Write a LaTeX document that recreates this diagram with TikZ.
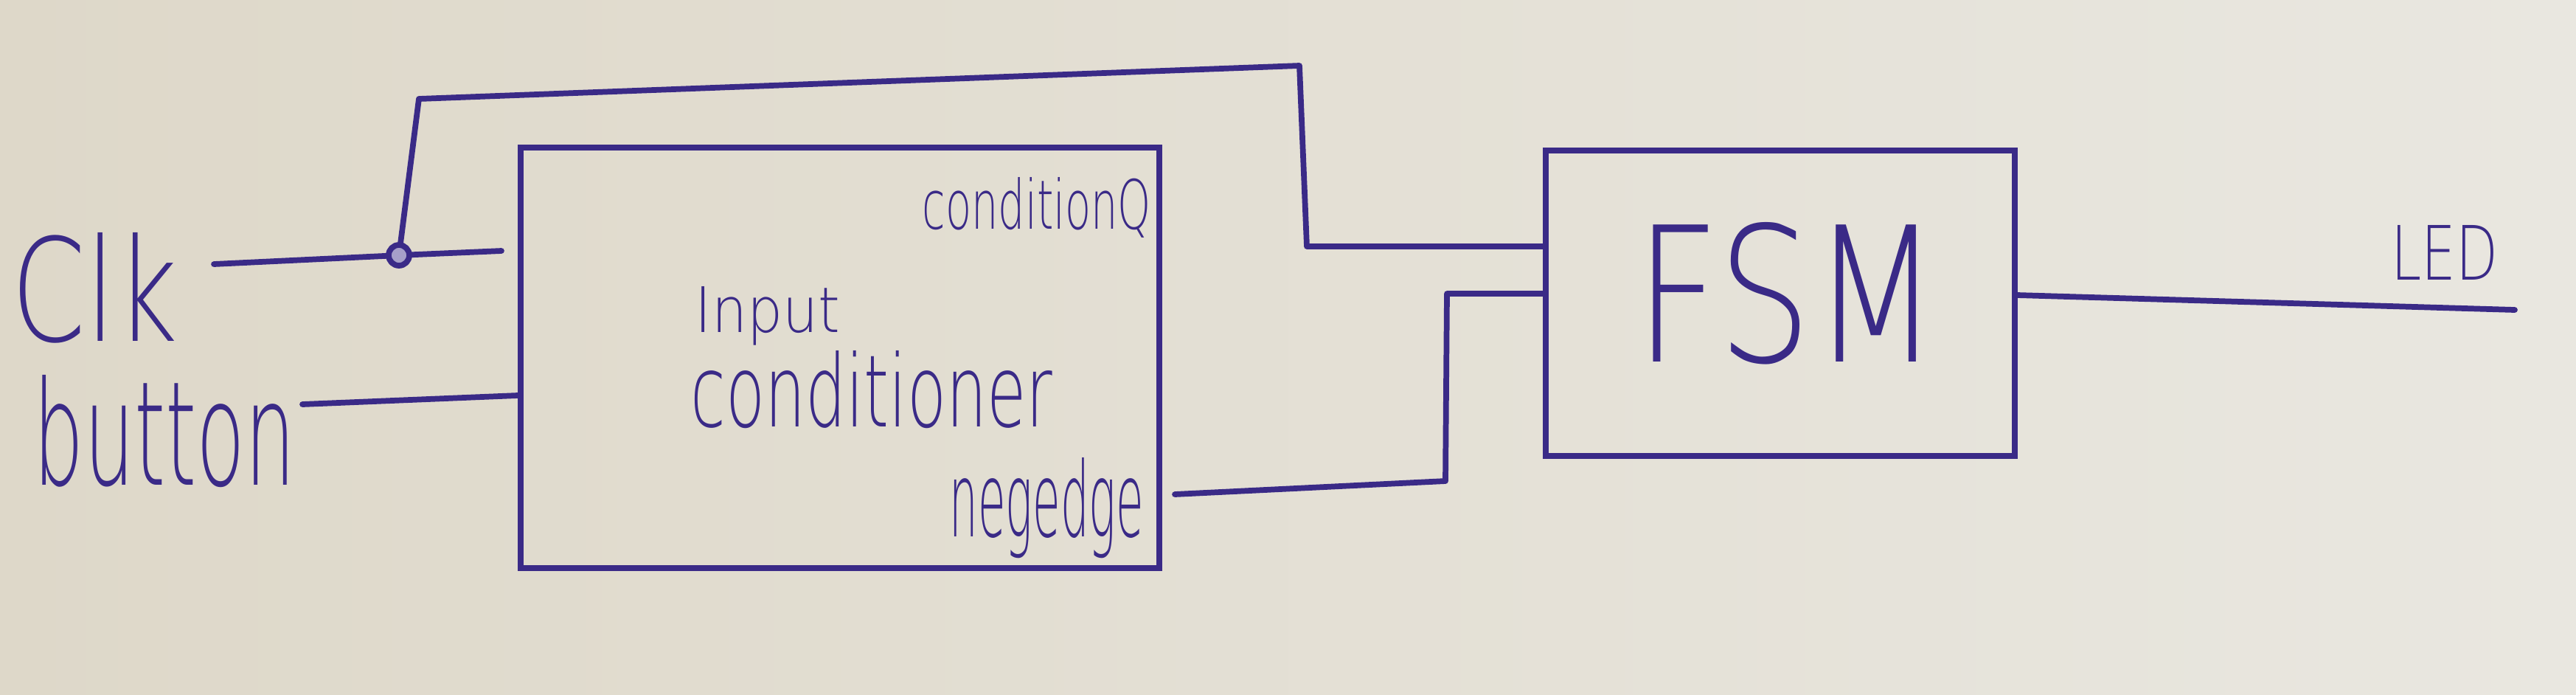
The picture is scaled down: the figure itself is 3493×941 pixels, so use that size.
\documentclass[tikz,border=0pt]{standalone}
\usepackage{fontspec}
\newfontfamily\handfont{DejaVu Sans ExtraLight}
\definecolor{ink}{RGB}{58,42,135}
\definecolor{paperL}{RGB}{222,216,201}
\definecolor{paperR}{RGB}{233,231,224}
\newcommand\handtext[3]{\resizebox{#1}{#2}{\handfont #3}}
\tikzset{
  wire/.style={draw=ink, line width=2.2pt, line cap=round, line join=round},
  blockbox/.style={draw=ink, line width=2.2pt, rectangle, inner sep=0pt},
  lbl/.style={inner sep=0pt, anchor=base west, text=ink},
}
\begin{document}
\begin{tikzpicture}[x=0.01cm,y=-0.01cm]
\shade[left color=paperL, right color=paperR] (0,0) rectangle (3493,941);
\useasboundingbox (0,0) rectangle (3493,941);
% blocks
\node[blockbox, minimum width=8.66cm, minimum height=5.7cm] (ic) at (1139,485) {};
\node[blockbox, minimum width=6.35cm, minimum height=4.14cm] (fsm) at (2414,411) {};
% labels
\node[lbl] (clk) at (15,462) {\handtext{2.25cm}{1.47cm}{Clk}};
\node[lbl] (button) at (45,657) {\handtext{3.55cm}{1.49cm}{button}};
\node[lbl] (icA) at (942,450) {\handtext{1.96cm}{0.62cm}{Input}};
\node[lbl] (icB) at (936,578) {\handtext{4.9cm}{1.03cm}{conditioner}};
\node[lbl] (condQ) at (1250,310) {\handtext{3.1cm}{0.7cm}{conditionQ}};
\node[lbl] (neg) at (1287,727) {\handtext{2.63cm}{1.07cm}{negedge}};
\node[lbl] (fsmT) at (2217,490) {\handtext{4.12cm}{1.89cm}{FSM}};
\node[lbl] (led) at (3242,379) {\handtext{1.45cm}{0.74cm}{LED}};
% wire coordinates
\coordinate (clkA) at (290,358);
\coordinate (j) at (541,346);
\coordinate (clkB) at (680,340);
\coordinate (fb1) at (568,134);
\coordinate (fb2) at (1762,89);
\coordinate (fb3) at (1772,334);
\coordinate (b1) at (410,548);
\coordinate (b2y) at (0,536);
\coordinate (n1) at (1593,670);
\coordinate (n2) at (1960,652);
\coordinate (n3) at (1962,398);
\coordinate (ledy) at (0,400);
\coordinate (ledE) at (3410,420);
% wires
\draw[wire] (clkA) -- (j) -- (clkB);
\draw[wire] (j) -- (fb1) -- (fb2) -- (fb3) -- (fb3 -| fsm.west);
\draw[wire, fill=ink!45] (j) circle[radius=0.14cm];
\draw[wire] (b1) -- (ic.west |- b2y);
\draw[wire] (n1) -- (n2) -- (n3) -- (n3 -| fsm.west);
\draw[wire] (fsm.east |- ledy) -- (ledE);
\end{tikzpicture}
\end{document}
